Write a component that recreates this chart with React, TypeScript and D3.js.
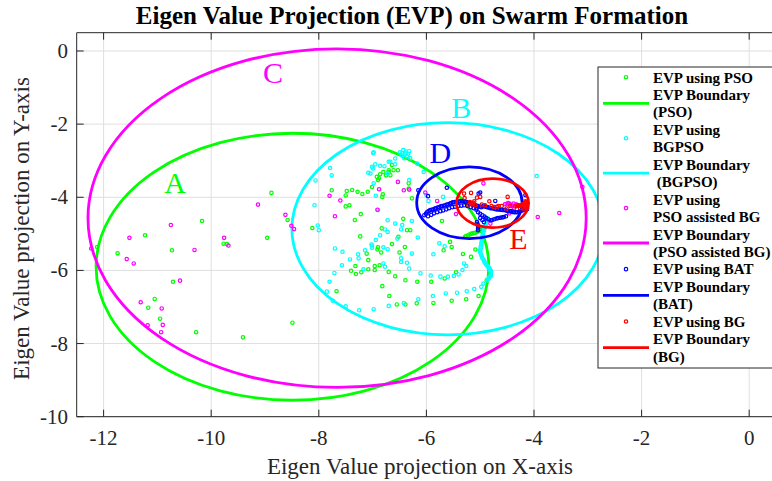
import React from 'react';
import * as d3 from 'd3';

// ---- data (eigen value projections, x / y) ----
const psoPoints: [number, number][] = [
  [-8.88, -3.88], [-10.17, -4.65], [-11.23, -5.04], [-10.73, -5.45], [-11.74, -5.53], [-12.12, -5.36],
  [-9.77, -5.27], [-9.71, -5.28], [-8.96, -5.11], [-8.58, -4.62], [-8.12, -4.84], [-10.71, -6.31],
  [-11.05, -6.78], [-11.17, -7.02], [-10.95, -7.32], [-10.28, -7.69], [-9.41, -7.83], [-8.49, -7.43],
  [-7.76, -3.81], [-7.48, -3.83], [-7.38, -3.8], [-7.28, -3.85], [-7.19, -3.91], [-7.09, -3.85],
  [-7.01, -3.72], [-7.5, -3.95], [-7.5, -4.25], [-7.43, -4.22], [-7.22, -4.46], [-7.33, -4.62],
  [-7.23, -5.07], [-6.92, -3.44], [-6.86, -3.37], [-6.8, -3.31], [-6.75, -3.4], [-6.88, -3.48],
  [-6.7, -3.31], [-6.9, -3.53], [-6.64, -3.12], [-6.81, -3.92], [-6.82, -3.99], [-6.7, -3.26],
  [-6.61, -3.26], [-6.53, -3.26], [-6.67, -3.4], [-6.33, -3.62], [-6.33, -3.76], [-6.27, -4.03],
  [-6.43, -4.59], [-6.36, -4.9], [-6.3, -4.9], [-6.52, -5.08], [-5.71, -4.65], [-6.83, -4.85],
  [-6.9, -5.37], [-6.4, -5.36], [-6.5, -5.51],
  [-5.28, -5.08], [-5.26, -5.06], [-5.23, -5.05], [-5.2, -5.02], [-5.17, -5.0], [-5.15, -4.99],
  [-5.12, -4.98], [-5.09, -4.97], [-5.06, -4.95], [-5.04, -4.93], [-5.01, -4.92], [-4.98, -4.9],
  [-4.96, -4.9], [-4.94, -4.89],
  [-7.32, -5.88], [-7.4, -6.01], [-7.31, -6.1], [-7.21, -6.05], [-7.08, -5.97], [-6.96, -5.88],
  [-6.96, -5.99], [-6.87, -5.86], [-6.7, -6.04], [-7.11, -5.54], [-7.08, -5.72], [-6.91, -5.43],
  [-6.84, -5.51], [-7.67, -6.57], [-6.82, -6.43], [-6.69, -6.7], [-6.64, -5.28], [-6.58, -6.16],
  [-6.39, -6.27], [-6.17, -6.31], [-5.91, -6.31], [-5.66, -6.22], [-5.45, -6.05], [-5.32, -5.55],
  [-5.56, -5.22], [-5.68, -5.45], [-5.53, -5.36], [-5.17, -5.63], [-5.09, -5.43], [-6.55, -6.93],
  [-6.39, -6.93], [-6.18, -6.9], [-5.87, -6.89], [-5.53, -6.83], [-5.26, -6.79], [-5.03, -6.7],
  [-4.88, -6.27],
];

const bgpsoPoints: [number, number][] = [
  [-8.06, -3.54], [-8.08, -4.22], [-8.02, -4.77], [-8.0, -4.9], [-6.98, -2.77], [-7.79, -3.2],
  [-7.76, -3.4], [-7.01, -3.17], [-6.95, -3.1], [-6.86, -3.14], [-6.78, -3.15], [-7.04, -3.35],
  [-6.7, -3.03], [-6.98, -3.62], [-6.94, -3.96], [-6.86, -5.04], [-6.77, -4.88], [-6.94, -5.17],
  [-7.02, -5.29], [-6.72, -4.95],
  [-6.49, -2.77], [-6.43, -2.71], [-6.39, -2.8], [-6.36, -2.88], [-6.32, -2.74], [-6.41, -2.93],
  [-6.3, -2.93], [-6.46, -2.85], [-6.34, -2.82], [-6.45, -2.8], [-6.38, -2.75],
  [-6.67, -3.03], [-6.58, -3.1], [-6.17, -3.08], [-6.05, -3.31], [-6.72, -3.35], [-6.32, -3.53],
  [-6.0, -3.94], [-5.96, -4.1], [-6.72, -4.63], [-6.58, -4.72], [-6.27, -4.65], [-6.47, -4.88],
  [-6.16, -5.1],
  [-7.7, -5.4], [-7.56, -5.49], [-7.42, -5.7], [-7.27, -5.56], [-7.26, -5.67], [-7.14, -5.45],
  [-7.01, -5.32], [-7.57, -5.86], [-7.71, -6.07], [-7.8, -6.31], [-7.85, -6.58], [-7.74, -6.83],
  [-7.5, -6.98], [-7.25, -7.09], [-6.98, -7.06], [-6.8, -5.81], [-6.77, -5.9], [-6.7, -6.97],
  [-6.47, -5.67], [-6.47, -5.77], [-6.36, -5.79], [-6.32, -5.95], [-6.27, -5.54], [-6.11, -6.08],
  [-5.92, -6.14], [-5.87, -5.56], [-5.76, -5.26], [-5.66, -5.34], [-5.74, -6.17], [-5.6, -6.17],
  [-5.49, -6.15], [-5.4, -6.11], [-5.33, -5.99], [-5.3, -5.81], [-5.26, -5.88],
  [-5.88, -6.7], [-5.64, -6.63], [-5.43, -6.61], [-5.25, -6.57], [-5.11, -6.51], [-4.98, -6.45],
  [-4.94, -6.36], [-6.15, -6.79], [-6.42, -6.89],
  [-4.87, -4.57], [-4.88, -4.61], [-4.88, -4.65], [-4.89, -4.7], [-4.89, -4.74], [-4.9, -4.78],
  [-4.91, -4.82], [-4.92, -4.86], [-4.93, -4.9], [-4.94, -4.95], [-4.95, -5.01], [-4.96, -5.06],
  [-4.96, -5.12], [-4.97, -5.16], [-4.97, -5.21], [-4.98, -5.26], [-4.98, -5.31], [-4.99, -5.35],
  [-4.99, -5.4], [-5.0, -5.45], [-5.0, -5.5], [-4.99, -5.54], [-4.98, -5.58], [-4.97, -5.62],
  [-4.96, -5.66], [-4.94, -5.7], [-4.93, -5.73], [-4.92, -5.77], [-4.91, -5.8], [-4.89, -5.83],
  [-4.88, -5.86], [-4.86, -5.89], [-4.85, -5.91], [-4.83, -5.94], [-4.82, -5.97], [-4.81, -6.0],
  [-4.8, -6.02], [-4.8, -6.06], [-4.8, -6.09], [-4.8, -6.13], [-4.81, -6.16], [-4.83, -6.19],
  [-4.84, -6.22], [-4.86, -6.25], [-4.87, -6.27],
  [-5.69, -3.99], [-3.95, -3.42], [-7.17, -5.97], [-6.99, -2.79], [-6.99, -3.21], [-7.08, -3.33],
  [-6.58, -2.94], [-6.9, -4.35], [-6.45, -4.76], [-6.54, -5.13], [-7.01, -5.38], [-6.8, -5.37],
  [-6.72, -5.42],
];

const psoBgPoints: [number, number][] = [
  [-9.13, -4.2], [-10.75, -4.76], [-11.52, -5.11], [-10.31, -5.44], [-11.57, -5.69], [-11.44, -5.81],
  [-9.76, -5.11], [-9.68, -5.32], [-8.62, -4.48], [-8.51, -4.78], [-8.46, -4.87], [-10.58, -6.28],
  [-11.31, -6.87], [-10.92, -7.04], [-10.9, -7.49], [-11.18, -7.5], [-10.93, -7.69], [-12.23, -5.4],
  [-7.8, -3.96], [-7.6, -4.09], [-7.7, -4.52], [-6.88, -3.78], [-6.91, -4.34], [-6.53, -3.58],
  [-6.42, -3.81], [-6.32, -3.79], [-6.02, -3.87], [-5.8, -4.1], [-5.45, -4.46], [-4.94, -3.62],
  [-4.81, -4.72], [-4.46, -4.17], [-4.46, -4.44], [-3.93, -4.54], [-3.53, -4.43], [-4.54, -4.19],
  [-4.48, -4.16], [-4.41, -4.22], [-4.33, -4.19], [-4.28, -4.24], [-4.37, -4.3], [-3.1, -3.72],
  [-4.51, -4.18], [-4.44, -4.2], [-4.38, -4.17], [-4.31, -4.22],
];

const batPoints: [number, number][] = [
  [-6.04, -4.49], [-6.01, -4.45], [-5.99, -4.41], [-5.96, -4.38], [-5.93, -4.35], [-5.9, -4.34],
  [-5.87, -4.33], [-5.84, -4.31], [-5.82, -4.3], [-5.79, -4.28], [-5.76, -4.27], [-5.73, -4.25],
  [-5.71, -4.24], [-5.68, -4.23], [-5.65, -4.22], [-5.62, -4.2], [-5.59, -4.19], [-5.56, -4.17],
  [-5.54, -4.16], [-5.51, -4.14], [-5.48, -4.13], [-5.45, -4.13], [-5.43, -4.13], [-5.4, -4.12],
  [-5.37, -4.11], [-5.34, -4.11], [-5.32, -4.11], [-5.29, -4.12], [-5.26, -4.13], [-5.23, -4.14],
  [-5.2, -4.16], [-5.17, -4.18], [-5.15, -4.19], [-5.12, -4.2], [-5.09, -4.22], [-5.06, -4.23],
  [-5.04, -4.24], [-5.01, -4.26], [-4.98, -4.27], [-4.95, -4.25], [-4.93, -4.24], [-4.9, -4.26],
  [-4.87, -4.27], [-4.84, -4.28], [-4.81, -4.3], [-4.78, -4.3], [-4.76, -4.3], [-4.73, -4.32],
  [-4.7, -4.33], [-4.67, -4.33], [-4.65, -4.33], [-4.62, -4.34], [-4.59, -4.35], [-4.56, -4.35],
  [-4.54, -4.35], [-4.51, -4.37], [-4.48, -4.38], [-4.45, -4.38], [-4.42, -4.38], [-4.4, -4.4],
  [-4.37, -4.41], [-4.34, -4.41], [-4.31, -4.41], [-4.28, -4.4], [-4.26, -4.38], [-4.23, -4.37],
  [-4.2, -4.35], [-4.16, -4.34], [-4.13, -4.33],
  [-5.97, -4.52], [-5.91, -4.48], [-5.86, -4.44], [-5.8, -4.41], [-5.74, -4.38], [-5.69, -4.36],
  [-5.63, -4.33], [-5.58, -4.3], [-5.52, -4.27], [-5.47, -4.26], [-5.41, -4.24], [-5.35, -4.23],
  [-5.3, -4.22], [-5.24, -4.24], [-5.18, -4.27], [-5.12, -4.3],
  [-5.07, -4.34], [-5.04, -4.41], [-5.0, -4.45], [-4.96, -4.49], [-4.92, -4.53], [-4.89, -4.57],
  [-4.85, -4.6], [-4.81, -4.63], [-4.78, -4.62], [-4.74, -4.6], [-4.7, -4.58], [-4.67, -4.57],
  [-4.63, -4.56], [-4.59, -4.55], [-4.56, -4.54], [-4.52, -4.52], [-5.0, -4.57], [-4.96, -4.62],
  [-4.93, -4.68], [-5.07, -4.3], [-5.06, -4.68], [-5.05, -4.74], [-5.04, -4.79], [-5.04, -4.85],
  [-5.04, -4.9],
  [-5.62, -3.74], [-5.03, -3.9], [-5.0, -3.87], [-5.97, -3.97], [-6.15, -3.81], [-4.16, -3.94],
  [-4.72, -4.1],
];

const bgPoints: [number, number][] = [
  [-5.29, -4.02], [-5.17, -3.88], [-5.06, -4.01], [-4.97, -4.2], [-4.83, -4.11], [-4.79, -4.24],
  [-4.66, -4.24], [-4.6, -4.24], [-4.49, -3.99], [-4.44, -4.24], [-5.19, -4.13], [-5.15, -4.19],
  [-5.11, -4.11], [-5.09, -4.22], [-5.22, -4.22], [-5.13, -4.15], [-5.17, -4.17],
  [-4.35, -4.25], [-4.32, -4.23], [-4.29, -4.22], [-4.26, -4.23], [-4.24, -4.22], [-4.22, -4.2],
  [-4.2, -4.19], [-4.18, -4.22], [-4.16, -4.25], [-4.14, -4.16], [-4.14, -4.2], [-4.13, -4.3],
  [-4.13, -4.25], [-4.18, -4.33], [-4.21, -4.28], [-4.26, -4.3], [-4.16, -4.11], [-4.15, -4.13],
  [-5.3, -3.9], [-5.0, -3.99], [-4.69, -4.26], [-4.91, -4.22], [-4.51, -4.31], [-4.74, -4.27],
];

// boundary circles (centre x, centre y, radius) in data units
const boundaryCx = [-8.49, -5.6, -7.66, -5.2, -4.77];
const boundaryCy = [-5.9, -4.86, -4.57, -4.15, -4.16];
const boundaryR = [3.65, 2.9, 4.63, 0.98, 0.67];

const seriesColors = ['#00ff00', '#00ffff', '#ff00ff', '#0000ff', '#ff0000'];
const boundaryLetters = ['A', 'B', 'C', 'D', 'E'];
const letterX = [-10.67, -5.35, -8.85, -5.74, -4.29];
const letterY = [-3.89, -1.84, -0.88, -3.07, -5.42];

const legendLabels: string[][] = [
  ['EVP using PSO'],
  ['EVP Boundary', '(PSO)'],
  ['EVP using', 'BGPSO'],
  ['EVP Boundary', ' (BGPSO)'],
  ['EVP using', 'PSO assisted BG'],
  ['EVP Boundary', '(PSO assisted BG)'],
  ['EVP using BAT'],
  ['EVP Boundary', '(BAT)'],
  ['EVP using BG'],
  ['EVP Boundary', '(BG)'],
];

const xTicks = [-12, -10, -8, -6, -4, -2, 0];
const yTicks = [-10, -8, -6, -4, -2, 0];

const W = 772;
const H = 481;
const plotLeft = 76.7;
const plotTop = 32.7;
const plotRight = 776.1;
const plotBottom = 416.7;

const x = d3.scaleLinear().domain([-12.5, 0.5]).range([plotLeft, plotRight]);
const y = d3.scaleLinear().domain([-10, 0.5]).range([plotBottom, plotTop]);

const serif = '"Liberation Serif", "Times New Roman", Times, serif';
const axisColor = '#262626';
const gridColor = '#dfdfdf';
const lineW = 2.8;
const markerR = 1.7;
const markerW = 1.2;

const scatterSets = [psoPoints, bgpsoPoints, psoBgPoints, batPoints, bgPoints];

export default function App() {
  const tickLen = 7;
  const legX = 598;
  const legY = 67;
  const rowBase0 = 82.5;
  const rowStep = 17.45;
  let row = 0;
  const legendItems = legendLabels.map((lines, i) => {
    const startRow = row;
    row += lines.length;
    const centerY = rowBase0 + rowStep * (startRow + (lines.length - 1) / 2) - 5.3;
    const color = seriesColors[Math.floor(i / 2)];
    const isLine = i % 2 === 1;
    return (
      <g key={i}>
        {isLine ? (
          <line x1={603} x2={649} y1={centerY} y2={centerY} stroke={color} strokeWidth={lineW} />
        ) : (
          <circle cx={626} cy={centerY} r={markerR} fill="none" stroke={color} strokeWidth={markerW} />
        )}
        {lines.map((t, j) => (
          <text
            key={j}
            x={653}
            y={rowBase0 + rowStep * (startRow + j)}
            fontFamily={serif}
            fontWeight="bold"
            fontSize={15}
            fill="#000"
            style={{ whiteSpace: 'pre' }}
          >
            {t}
          </text>
        ))}
      </g>
    );
  });

  return (
    <svg
      width={W}
      height={H}
      viewBox={`0 0 ${W} ${H}`}
      style={{ position: 'absolute', left: 0, top: 0, background: '#fff' }}
    >
      <defs>
        <clipPath id="plotClip">
          <rect x={plotLeft} y={plotTop} width={plotRight - plotLeft} height={plotBottom - plotTop} />
        </clipPath>
      </defs>
      <rect x={0} y={0} width={W} height={H} fill="#fff" />

      {/* grid */}
      <g>
        {xTicks.map((t) => (
          <line key={'gx' + t} x1={x(t)} x2={x(t)} y1={plotTop} y2={plotBottom} stroke={gridColor} strokeWidth={1} />
        ))}
        {yTicks.map((t) => (
          <line key={'gy' + t} x1={plotLeft} x2={plotRight} y1={y(t)} y2={y(t)} stroke={gridColor} strokeWidth={1} />
        ))}
      </g>

      {/* series: scatter then boundary, in plotting order */}
      <g clipPath="url(#plotClip)">
        {scatterSets.map((pts, si) => (
          <g key={'s' + si}>
            {pts.map((p, k) => (
              <circle
                key={k}
                cx={x(p[0])}
                cy={y(p[1])}
                r={markerR}
                fill="none"
                stroke={seriesColors[si]}
                strokeWidth={markerW}
              />
            ))}
            <ellipse
              cx={x(boundaryCx[si])}
              cy={y(boundaryCy[si])}
              rx={x(boundaryCx[si] + boundaryR[si]) - x(boundaryCx[si])}
              ry={y(boundaryCy[si]) - y(boundaryCy[si] + boundaryR[si])}
              fill="none"
              stroke={seriesColors[si]}
              strokeWidth={lineW}
            />
          </g>
        ))}
      </g>

      {/* boundary letters */}
      {boundaryLetters.map((l, i) => (
        <text
          key={l}
          x={x(letterX[i])}
          y={y(letterY[i])}
          textAnchor="middle"
          fontFamily={serif}
          fontSize={30}
          fill={seriesColors[i]}
        >
          {l}
        </text>
      ))}

      {/* axes box */}
      <g stroke={axisColor} strokeWidth={1}>
        <line x1={plotLeft} x2={plotRight} y1={plotBottom} y2={plotBottom} />
        <line x1={plotLeft} x2={plotRight} y1={plotTop} y2={plotTop} />
        <line x1={plotLeft} x2={plotLeft} y1={plotTop} y2={plotBottom} />
        {xTicks.map((t) => (
          <g key={'tx' + t}>
            <line x1={x(t)} x2={x(t)} y1={plotBottom} y2={plotBottom - tickLen} />
            <line x1={x(t)} x2={x(t)} y1={plotTop} y2={plotTop + tickLen} />
          </g>
        ))}
        {yTicks.map((t) => (
          <line key={'ty' + t} x1={plotLeft} x2={plotLeft + tickLen} y1={y(t)} y2={y(t)} />
        ))}
      </g>

      {/* tick labels */}
      <g fontFamily={serif} fontSize={21} fill={axisColor}>
        {xTicks.map((t) => (
          <text key={'lx' + t} x={x(t)} y={445} textAnchor="middle">
            {t}
          </text>
        ))}
        {yTicks.map((t) => (
          <text key={'ly' + t} x={68} y={y(t) + 7} textAnchor="end">
            {t}
          </text>
        ))}
      </g>

      {/* axis labels */}
      <text x={420} y={474} textAnchor="middle" fontFamily={serif} fontSize={23} fill={axisColor}>
        Eigen Value projection on X-axis
      </text>
      <text
        transform={`translate(28.5,228.5) rotate(-90)`}
        textAnchor="middle"
        fontFamily={serif}
        fontSize={23}
        fill={axisColor}
      >
        Eigen Value projection on Y-axis
      </text>

      {/* title */}
      <text x={412} y={24} textAnchor="middle" fontFamily={serif} fontWeight="bold" fontSize={25} fill="#000">
        Eigen Value Projection (EVP) on Swarm Formation
      </text>

      {/* legend */}
      <rect x={legX} y={legY} width={190} height={301} fill="#fff" stroke={axisColor} strokeWidth={1} />
      {legendItems}
    </svg>
  );
}
